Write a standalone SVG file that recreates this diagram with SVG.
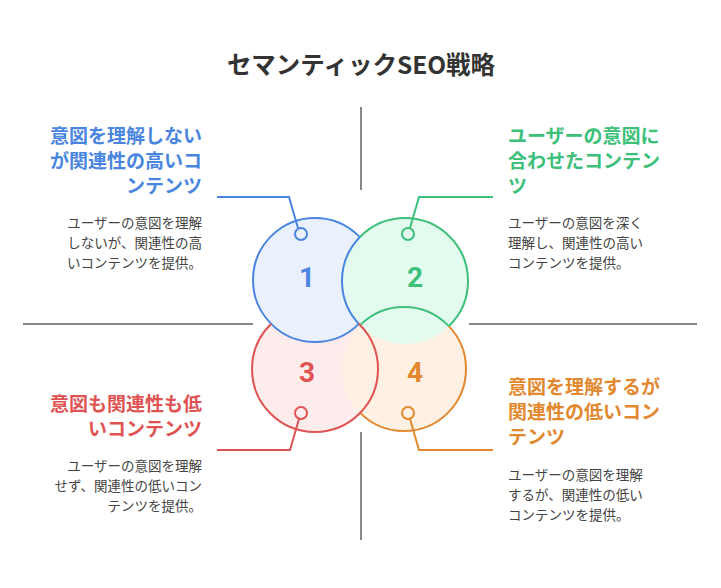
<svg xmlns="http://www.w3.org/2000/svg" width="721" height="588" viewBox="0 0 721 588">
<style>
text{font-family:"Noto Sans CJK JP","Noto Sans",sans-serif}
.t{font-size:24.5px;font-weight:bold;fill:#333;text-anchor:middle}
.h{font-size:19px;font-weight:bold}
.d{font-size:13.5px;fill:#444}
.n{font-size:28px;font-weight:bold;text-anchor:middle;font-family:Roboto,sans-serif}
.ax{stroke:#888;stroke-width:2;fill:none}
.s{fill:none;stroke-width:2}
.r{text-anchor:end}
</style>
<defs>
<mask id="m1" maskUnits="userSpaceOnUse"><rect width="721" height="588" fill="#fff"/><circle cx="405" cy="281" r="63" fill="#000"/></mask>
<mask id="m2" maskUnits="userSpaceOnUse"><rect width="721" height="588" fill="#fff"/><circle cx="404" cy="369" r="62" fill="#000"/><circle cx="315" cy="280" r="62" fill="#000"/></mask>
<mask id="m4" maskUnits="userSpaceOnUse"><rect width="721" height="588" fill="#fff"/><circle cx="315" cy="369" r="63" fill="#000"/><circle cx="405" cy="281" r="63" fill="#000"/></mask>
<mask id="m3" maskUnits="userSpaceOnUse"><rect width="721" height="588" fill="#fff"/><circle cx="315" cy="280" r="62" fill="#000"/></mask>
<clipPath id="c1"><circle cx="315" cy="280" r="62"/></clipPath>
<clipPath id="c2"><circle cx="405" cy="281" r="63"/></clipPath>
</defs>
<text class="t" x="361" y="74">セマンティックSEO戦略</text>
<g id="axes">
<path class="ax" d="M361 107V190M361 432V540M23 324H253M469 324H697"/>
</g>
<g id="circles">
<circle cx="315" cy="369" r="63" fill="#FDECEC"/>
<circle cx="404" cy="369" r="62" fill="#FEF0E3"/>
<circle cx="315" cy="280" r="62" fill="#EAF1FD"/>
<circle cx="405" cy="281" r="63" fill="#E3FAEE"/>
<circle class="s" cx="315" cy="280" r="62" stroke="#4A86E0" mask="url(#m1)"/>
<circle class="s" cx="405" cy="281" r="63" stroke="#3CC07A" mask="url(#m2)"/>
<circle class="s" cx="405" cy="281" r="63" stroke="#4A86E0" clip-path="url(#c1)"/>
<circle class="s" cx="404" cy="369" r="62" stroke="#E2882E" mask="url(#m4)"/>
<circle class="s" cx="404" cy="369" r="62" stroke="#3CC07A" clip-path="url(#c2)"/>
<circle class="s" cx="315" cy="369" r="63" stroke="#E05353" mask="url(#m3)"/>
<text class="n" x="307" y="287" fill="#4A86E0">1</text>
<text class="n" x="415" y="287" fill="#3CC07A">2</text>
<text class="n" x="307" y="382" fill="#E05353">3</text>
<text class="n" x="415" y="382" fill="#E2882E">4</text>
</g>
<g id="connectors" class="s">
<path d="M217 197H289L298 228" stroke="#4A86E0"/>
<circle cx="301" cy="234" r="6" stroke="#4A86E0" fill="#EAF1FD"/>
<path d="M493 197H419L410 228" stroke="#3CC07A"/>
<circle cx="408" cy="234" r="6" stroke="#3CC07A" fill="#E3FAEE"/>
<path d="M217 450H290L299 419" stroke="#E05353"/>
<circle cx="301" cy="413" r="6" stroke="#E05353" fill="#FDECEC"/>
<path d="M493 450H419L410 419" stroke="#E2882E"/>
<circle cx="408" cy="413" r="6" stroke="#E2882E" fill="#FEF0E3"/>
</g>
<g id="n1">
<text class="h r" fill="#4A86E0"><tspan x="202" y="143">意図を理解しない</tspan><tspan x="202" y="168">が関連性の高いコ</tspan><tspan x="202" y="193">ンテンツ</tspan></text>
<text class="d r"><tspan x="202" y="228">ユーザーの意図を理解</tspan><tspan x="202" y="248">しないが、関連性の高</tspan><tspan x="202" y="268">いコンテンツを提供。</tspan></text>
</g>
<g id="n2">
<text class="h" fill="#3CC07A"><tspan x="508" y="143">ユーザーの意図に</tspan><tspan x="508" y="168">合わせたコンテン</tspan><tspan x="508" y="193">ツ</tspan></text>
<text class="d"><tspan x="508" y="228">ユーザーの意図を深く</tspan><tspan x="508" y="248">理解し、関連性の高い</tspan><tspan x="508" y="268">コンテンツを提供。</tspan></text>
</g>
<g id="n3">
<text class="h r" fill="#E05353"><tspan x="202" y="411">意図も関連性も低</tspan><tspan x="202" y="436">いコンテンツ</tspan></text>
<text class="d r"><tspan x="202" y="471">ユーザーの意図を理解</tspan><tspan x="202" y="491">せず、関連性の低いコン</tspan><tspan x="202" y="511">テンツを提供。</tspan></text>
</g>
<g id="n4">
<text class="h" fill="#E2882E"><tspan x="508" y="394">意図を理解するが</tspan><tspan x="508" y="419">関連性の低いコン</tspan><tspan x="508" y="444">テンツ</tspan></text>
<text class="d"><tspan x="508" y="480">ユーザーの意図を理解</tspan><tspan x="508" y="500">するが、関連性の低い</tspan><tspan x="508" y="520">コンテンツを提供。</tspan></text>
</g>
</svg>
